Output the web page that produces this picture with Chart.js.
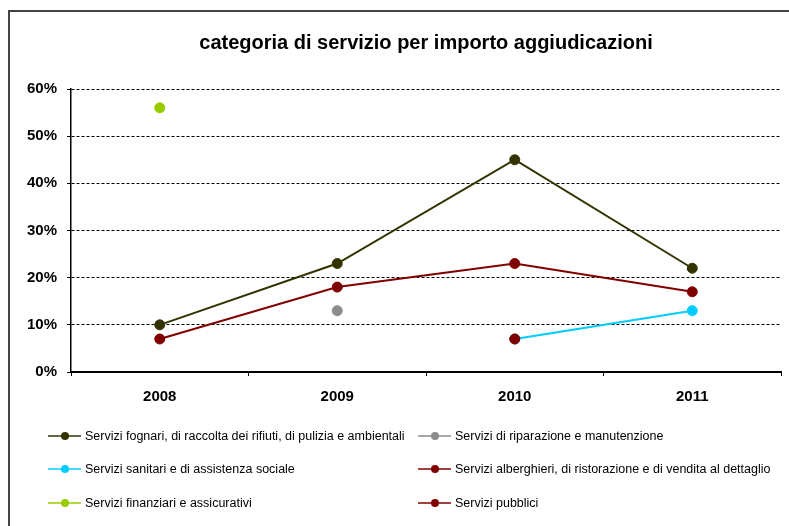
<!DOCTYPE html>
<html>
<head>
<meta charset="utf-8">
<title>categoria di servizio per importo aggiudicazioni</title>
<script src="https://cdn.jsdelivr.net/npm/chart.js@4/dist/chart.umd.min.js"></script>
<style>
  html, body { margin: 0; padding: 0; background: #fff; }
  #wrap { position: relative; width: 789px; height: 526px; overflow: hidden; }
  #cornice { position: absolute; left: 8px; top: 10px; width: 820px; height: 600px;
             border-left: 2px solid #444; border-top: 2px solid #444; }
  #grafico { position: absolute; left: 0; top: 0; }
</style>
</head>
<body>
<div id="wrap">
  <div id="cornice"></div>
  <canvas id="grafico" width="789" height="526"></canvas>
</div>
<script>
// anni e percentuali per categoria (null = nessun dato)
const anni = ['2008', '2009', '2010', '2011'];
const fognari = [10, 23, 45, 22];
const riparazione = [null, 13, null, null];
const sanitari = [null, null, 7, 13];
const alberghieri = [7, 18, 23, 17];
const finanziari = [56, null, null, null];
const pubblici = [null, null, 7, null];
const asseMax = 60;
const asseStep = 10;

const serie = [
  { label: 'Servizi fognari, di raccolta dei rifiuti, di pulizia e ambientali', data: fognari, colore: '#333300' },
  { label: 'Servizi di riparazione e manutenzione', data: riparazione, colore: '#8c8c8c' },
  { label: 'Servizi sanitari e di assistenza sociale', data: sanitari, colore: '#00ccff' },
  { label: 'Servizi alberghieri, di ristorazione e di vendita al dettaglio', data: alberghieri, colore: '#800000' },
  { label: 'Servizi finanziari e assicurativi', data: finanziari, colore: '#99cc00' },
  { label: 'Servizi pubblici', data: pubblici, colore: '#800000' }
];

const fontBase = '"Liberation Sans", Arial, sans-serif';

// legenda su due colonne sotto il grafico
const legendaX = [48, 418];
const legendaY = [436, 469, 503];
const legendaDueColonne = {
  id: 'legendaDueColonne',
  afterDraw(chart) {
    const ctx = chart.ctx;
    ctx.save();
    chart.data.datasets.forEach((ds, i) => {
      const x = legendaX[i % 2];
      const y = legendaY[Math.floor(i / 2)];
      ctx.strokeStyle = ds.borderColor;
      ctx.lineWidth = 1.5;
      ctx.beginPath();
      ctx.moveTo(x, y);
      ctx.lineTo(x + 33, y);
      ctx.stroke();
      ctx.fillStyle = ds.pointBackgroundColor;
      ctx.beginPath();
      ctx.arc(x + 17, y, 4, 0, Math.PI * 2);
      ctx.fill();
      ctx.fillStyle = '#000';
      ctx.font = '12.5px ' + fontBase;
      ctx.textBaseline = 'middle';
      ctx.fillText(ds.label, x + 37, y + 1);
    });
    ctx.restore();
  }
};

const grafico = new Chart(document.getElementById('grafico'), {
  type: 'line',
  data: {
    labels: anni,
    datasets: serie.map((s, i) => ({
      label: s.label,
      data: s.data,
      borderColor: s.colore,
      backgroundColor: s.colore,
      pointBackgroundColor: s.colore,
      pointBorderColor: s.colore,
      borderWidth: 2,
      pointRadius: 5,
      pointBorderWidth: 1,
      pointHoverRadius: 5,
      spanGaps: false,
      fill: false,
      tension: 0,
      order: serie.length - i
    }))
  },
  options: {
    responsive: false,
    animation: false,
    events: [],
    layout: { padding: { left: 0, right: 8, top: 0, bottom: 114 } },
    plugins: {
      legend: { display: false },
      tooltip: { enabled: false },
      title: {
        display: true,
        fullSize: false,
        text: 'categoria di servizio per importo aggiudicazioni',
        color: '#000',
        font: { family: fontBase, size: 20, weight: 'bold', lineHeight: 1.2 },
        padding: { top: 31, bottom: 34 }
      }
    },
    scales: {
      x: {
        offset: true,
        afterFit(scale) { scale.height = 40; },
        grid: { display: true, offset: true, drawOnChartArea: false, drawTicks: true, tickLength: 4, tickColor: '#000', tickWidth: 1 },
        border: { display: true, color: '#000', width: 2 },
        ticks: {
          color: '#000',
          padding: 12,
          font: { family: fontBase, size: 15, weight: 'bold' }
        }
      },
      y: {
        min: 0,
        max: asseMax,
        afterFit(scale) { scale.width = 71; },
        grid: { color: '#000', lineWidth: 1, tickLength: 4, tickColor: '#000', tickWidth: 1 },
        border: { display: true, color: '#000', width: 1.5, dash: [3, 2] },
        ticks: {
          stepSize: asseStep,
          color: '#000',
          padding: 10,
          callback: v => v + '%',
          font: { family: fontBase, size: 15, weight: 'bold' }
        }
      }
    }
  },
  plugins: [legendaDueColonne]
});
</script>
</body>
</html>
